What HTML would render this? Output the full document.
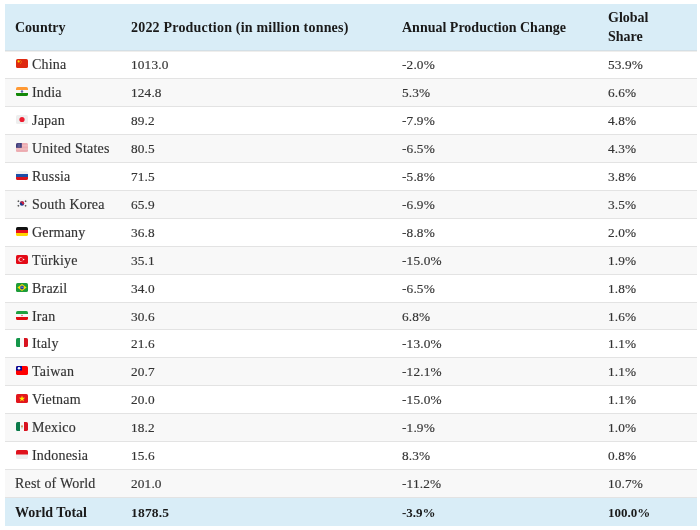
<!DOCTYPE html>
<html><head><meta charset="utf-8"><style>
html,body{margin:0;padding:0;background:#fff;width:700px;height:530px;overflow:hidden}
body{font-family:"Liberation Serif",serif;font-size:14px;color:#333;-webkit-text-stroke:.15px #333}
.t{position:absolute;left:5px;top:4px;width:692px;height:523px;will-change:transform}
.r{position:absolute;left:0;width:692px;box-sizing:border-box;border-bottom:1px solid #e3e3e3}
.h{background:#d9edf7;color:#1a1a1a;-webkit-text-stroke:0;font-weight:bold;border-bottom:1px solid #d3dfe6;box-shadow:0 1px 0 #efeeec}
.alt{background:#f8f8f8}
.tot{background:#d9edf7;color:#1a1a1a;-webkit-text-stroke:0;font-weight:bold;border-bottom:none}
.c{position:absolute;top:0;bottom:0;display:flex;align-items:center;line-height:19px;white-space:nowrap}
.n{font-size:13.3px;letter-spacing:.15px}
.nm{font-size:14px;letter-spacing:.2px}
.c1{left:10px}.c2{left:126px}.c3{left:397px}.c4{left:603px}
.fl{display:block;margin-left:1px;margin-right:4px;flex:none;position:relative;top:-1px}
.cc{display:flex;align-items:center}
</style></head><body><div class="t">

<div class="r h" style="top:0;height:47px"><div class="c c1">Country</div><div class="c c2" style="letter-spacing:.2px">2022 Production (in million tonnes)</div><div class="c c3">Annual Production Change</div><div class="c c4">Global<br>Share</div></div>
<div class="r" style="top:47.00px;height:27.95px"><div class="c c1"><svg class="fl" width="12" height="9" viewBox="0 0 12 9"><clipPath id="ccn"><rect width="12" height="9" rx="1.6"/></clipPath><g clip-path="url(#ccn)"><rect width="12" height="9" fill="#de2910"/><circle cx="2.6" cy="2.4" r="1.1" fill="#ffde00"/><circle cx="4.6" cy="1.4" r=".35" fill="#ffde00"/><circle cx="5.2" cy="2.4" r=".35" fill="#ffde00"/><circle cx="5.1" cy="3.6" r=".35" fill="#ffde00"/><circle cx="4.4" cy="4.4" r=".35" fill="#ffde00"/></g></svg><span class="nm">China</span></div><div class="c c2 n">1013.0</div><div class="c c3 n">-2.0%</div><div class="c c4 n">53.9%</div></div>
<div class="r alt" style="top:74.95px;height:27.95px"><div class="c c1"><svg class="fl" width="12" height="9" viewBox="0 0 12 9"><clipPath id="cin"><rect width="12" height="9" rx="1.6"/></clipPath><g clip-path="url(#cin)"><rect width="12" height="9" fill="#f7f7f7"/><rect width="12" height="3" fill="#ff9933"/><rect y="6" width="12" height="3" fill="#138808"/><circle cx="6" cy="4.5" r="1.2" fill="#2a3590" opacity=".75"/></g></svg><span class="nm">India</span></div><div class="c c2 n">124.8</div><div class="c c3 n">5.3%</div><div class="c c4 n">6.6%</div></div>
<div class="r" style="top:102.90px;height:27.95px"><div class="c c1"><svg class="fl" width="12" height="9" viewBox="0 0 12 9"><clipPath id="cjp"><rect width="12" height="9" rx="1.6"/></clipPath><g clip-path="url(#cjp)"><rect width="12" height="9" fill="#eeeeee"/><circle cx="6" cy="4.5" r="2.6" fill="#ed1b2e"/></g></svg><span class="nm">Japan</span></div><div class="c c2 n">89.2</div><div class="c c3 n">-7.9%</div><div class="c c4 n">4.8%</div></div>
<div class="r alt" style="top:130.85px;height:27.95px"><div class="c c1"><svg class="fl" width="12" height="9" viewBox="0 0 12 9"><clipPath id="cus"><rect width="12" height="9" rx="1.6"/></clipPath><g clip-path="url(#cus)"><rect width="12" height="9" fill="#f4c6c9"/><rect y="0" width="12" height=".7" fill="#e8a0a6"/><rect y="1.4" width="12" height=".7" fill="#e8a0a6"/><rect y="2.8" width="12" height=".7" fill="#e8a0a6"/><rect y="4.2" width="12" height=".7" fill="#e8a0a6"/><rect y="5.6" width="12" height=".7" fill="#e8a0a6"/><rect y="7" width="12" height=".7" fill="#e8a0a6"/><rect y="8.4" width="12" height=".6" fill="#e8a0a6"/><rect width="5.8" height="4.8" fill="#3c3b7a"/><path d="M1.5 1.2h3M1.5 2.4h3M1.5 3.6h3M2.2.6v3.8M3.6.6v3.8" stroke="#7a79a8" stroke-width=".35"/></g></svg><span class="nm">United States</span></div><div class="c c2 n">80.5</div><div class="c c3 n">-6.5%</div><div class="c c4 n">4.3%</div></div>
<div class="r" style="top:158.80px;height:27.95px"><div class="c c1"><svg class="fl" width="12" height="9" viewBox="0 0 12 9"><clipPath id="cru"><rect width="12" height="9" rx="1.6"/></clipPath><g clip-path="url(#cru)"><rect width="12" height="9" fill="#f2f2f2"/><rect y="3" width="12" height="3" fill="#1c4fa8"/><rect y="6" width="12" height="3" fill="#d8141c"/></g></svg><span class="nm">Russia</span></div><div class="c c2 n">71.5</div><div class="c c3 n">-5.8%</div><div class="c c4 n">3.8%</div></div>
<div class="r alt" style="top:186.75px;height:27.95px"><div class="c c1"><svg class="fl" width="12" height="9" viewBox="0 0 12 9"><clipPath id="ckr"><rect width="12" height="9" rx="1.6"/></clipPath><g clip-path="url(#ckr)"><rect width="12" height="9" fill="#f6f6f6"/><circle cx="6" cy="4.5" r="2.2" fill="#1a3a8f"/><path d="M3.8 4.5a2.2 2.2 0 0 1 4.4 0a1.1 1.1 0 0 1-2.2 0a1.1 1.1 0 0 0-2.2 0z" fill="#d21f3c"/><g fill="#444"><rect x="1.6" y="1.5" width="1.6" height="1.3" transform="rotate(-35 2.4 2.15)"/><rect x="8.8" y="1.5" width="1.6" height="1.3" transform="rotate(35 9.6 2.15)"/><rect x="1.6" y="6.2" width="1.6" height="1.3" transform="rotate(35 2.4 6.85)"/><rect x="8.8" y="6.2" width="1.6" height="1.3" transform="rotate(-35 9.6 6.85)"/></g></g></svg><span class="nm">South Korea</span></div><div class="c c2 n">65.9</div><div class="c c3 n">-6.9%</div><div class="c c4 n">3.5%</div></div>
<div class="r" style="top:214.70px;height:27.95px"><div class="c c1"><svg class="fl" width="12" height="9" viewBox="0 0 12 9"><clipPath id="cde"><rect width="12" height="9" rx="1.6"/></clipPath><g clip-path="url(#cde)"><rect width="12" height="3" fill="#111"/><rect y="3" width="12" height="3" fill="#e8101e"/><rect y="6" width="12" height="3" fill="#ffd400"/></g></svg><span class="nm">Germany</span></div><div class="c c2 n">36.8</div><div class="c c3 n">-8.8%</div><div class="c c4 n">2.0%</div></div>
<div class="r alt" style="top:242.65px;height:27.95px"><div class="c c1"><svg class="fl" width="12" height="9" viewBox="0 0 12 9"><clipPath id="ctr"><rect width="12" height="9" rx="1.6"/></clipPath><g clip-path="url(#ctr)"><rect width="12" height="9" fill="#e30a17"/><circle cx="4.6" cy="4.5" r="2.3" fill="#f7f7f7"/><circle cx="5.2" cy="4.5" r="1.85" fill="#e30a17"/><circle cx="7.6" cy="4.5" r=".8" fill="#f7f7f7"/></g></svg><span class="nm">Türkiye</span></div><div class="c c2 n">35.1</div><div class="c c3 n">-15.0%</div><div class="c c4 n">1.9%</div></div>
<div class="r" style="top:270.60px;height:27.95px"><div class="c c1"><svg class="fl" width="12" height="9" viewBox="0 0 12 9"><clipPath id="cbr"><rect width="12" height="9" rx="1.6"/></clipPath><g clip-path="url(#cbr)"><rect width="12" height="9" fill="#1e9c3a"/><path d="M6 1.1L10.6 4.5L6 7.9L1.4 4.5z" fill="#ffdf00"/><circle cx="6" cy="4.5" r="1.9" fill="#1a3a9a"/><path d="M4.3 4.2q1.8-.5 3.4.6" stroke="#e8e8e8" stroke-width=".45" fill="none"/></g></svg><span class="nm">Brazil</span></div><div class="c c2 n">34.0</div><div class="c c3 n">-6.5%</div><div class="c c4 n">1.8%</div></div>
<div class="r alt" style="top:298.55px;height:27.95px"><div class="c c1"><svg class="fl" width="12" height="9" viewBox="0 0 12 9"><clipPath id="cir"><rect width="12" height="9" rx="1.6"/></clipPath><g clip-path="url(#cir)"><rect width="12" height="9" fill="#f7f7f7"/><rect width="12" height="3" fill="#1fa040"/><rect y="6" width="12" height="3" fill="#e00c12"/><circle cx="6" cy="4.5" r=".8" fill="#e05060"/></g></svg><span class="nm">Iran</span></div><div class="c c2 n">30.6</div><div class="c c3 n">6.8%</div><div class="c c4 n">1.6%</div></div>
<div class="r" style="top:326.50px;height:27.95px"><div class="c c1"><svg class="fl" width="12" height="9" viewBox="0 0 12 9"><clipPath id="cit"><rect width="12" height="9" rx="1.6"/></clipPath><g clip-path="url(#cit)"><rect width="12" height="9" fill="#f7f7f7"/><rect width="4" height="9" fill="#14964a"/><rect x="8" width="4" height="9" fill="#d8131f"/></g></svg><span class="nm">Italy</span></div><div class="c c2 n">21.6</div><div class="c c3 n">-13.0%</div><div class="c c4 n">1.1%</div></div>
<div class="r alt" style="top:354.45px;height:27.95px"><div class="c c1"><svg class="fl" width="12" height="9" viewBox="0 0 12 9"><clipPath id="ctw"><rect width="12" height="9" rx="1.6"/></clipPath><g clip-path="url(#ctw)"><rect width="12" height="9" fill="#fe0000"/><rect width="6" height="4.5" fill="#000a9a"/><circle cx="3" cy="2.25" r="1.25" fill="#fff"/></g></svg><span class="nm">Taiwan</span></div><div class="c c2 n">20.7</div><div class="c c3 n">-12.1%</div><div class="c c4 n">1.1%</div></div>
<div class="r" style="top:382.40px;height:27.95px"><div class="c c1"><svg class="fl" width="12" height="9" viewBox="0 0 12 9"><clipPath id="cvn"><rect width="12" height="9" rx="1.6"/></clipPath><g clip-path="url(#cvn)"><rect width="12" height="9" fill="#e2161d"/><path d="M6 1.6L6.75 3.85L9.1 3.85L7.2 5.25L7.9 7.5L6 6.1L4.1 7.5L4.8 5.25L2.9 3.85L5.25 3.85z" fill="#ffee00"/></g></svg><span class="nm">Vietnam</span></div><div class="c c2 n">20.0</div><div class="c c3 n">-15.0%</div><div class="c c4 n">1.1%</div></div>
<div class="r alt" style="top:410.35px;height:27.95px"><div class="c c1"><svg class="fl" width="12" height="9" viewBox="0 0 12 9"><clipPath id="cmx"><rect width="12" height="9" rx="1.6"/></clipPath><g clip-path="url(#cmx)"><rect width="12" height="9" fill="#f7f7f7"/><rect width="4" height="9" fill="#0b7a4a"/><rect x="8" width="4" height="9" fill="#d8131f"/><circle cx="6" cy="4.2" r=".9" fill="#c88040"/><path d="M5 5.6q1 .8 2 0" stroke="#6aa060" stroke-width=".5" fill="none"/></g></svg><span class="nm">Mexico</span></div><div class="c c2 n">18.2</div><div class="c c3 n">-1.9%</div><div class="c c4 n">1.0%</div></div>
<div class="r" style="top:438.30px;height:27.95px"><div class="c c1"><svg class="fl" width="12" height="9" viewBox="0 0 12 9"><clipPath id="cid"><rect width="12" height="9" rx="1.6"/></clipPath><g clip-path="url(#cid)"><rect width="12" height="9" fill="#eeeeee"/><rect width="12" height="4.5" fill="#e0121c"/></g></svg><span class="nm">Indonesia</span></div><div class="c c2 n">15.6</div><div class="c c3 n">8.3%</div><div class="c c4 n">0.8%</div></div>
<div class="r alt" style="top:466.25px;height:27.95px"><div class="c c1"><span class="nm">Rest of World</span></div><div class="c c2 n">201.0</div><div class="c c3 n">-11.2%</div><div class="c c4 n">10.7%</div></div>
<div class="r tot" style="top:494.20px;height:27.95px"><div class="c c1">World Total</div><div class="c c2" style="font-size:13.5px;letter-spacing:.2px">1878.5</div><div class="c c3" style="font-size:13px">-3.9%</div><div class="c c4" style="font-size:13px">100.0%</div></div>
</div></body></html>
